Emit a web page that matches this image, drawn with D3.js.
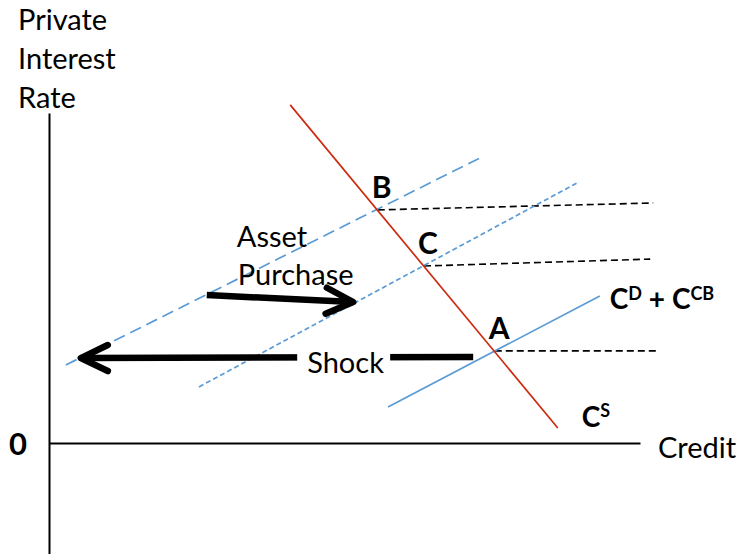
<!DOCTYPE html>
<html>
<head>
<meta charset="utf-8">
<script src="https://cdn.jsdelivr.net/npm/d3@7"></script>
<style>
  html, body { margin: 0; padding: 0; background: #fff; }
  svg { display: block; }
  text { font-family: Lato, "Open Sans", sans-serif; fill: #000; }
</style>
</head>
<body>
<svg id="chart" width="746" height="554"></svg>
<script>
// ---------- data (diagram units: credit on x, private interest rate on y) ----------
const yTitleLines = ["Private", "Interest", "Rate"];
const xTitle = "Credit";
const yTickValues = [0];

const supplyCurve = [[40.2, 112.7], [84.8, 5.0]];          // C^S (red)
const demandInitial = [[56.5, 12.0], [91.8, 49.0]];        // C^D + C^CB (solid blue)
const demandAfterShock = [[2.8, 26.0], [72.5, 95.7]];      // long-dashed blue
const demandAfterPurchase = [[25.0, 18.7], [88.3, 87.0]];  // short-dashed blue

const pointLabels = ["A", "B", "C"];
const pointX = [74.3, 54.8, 62.5];
const pointY = [30.7, 77.7, 59.0];
const guideEndX = [101.3, 100.7, 100.2];
const guideEndY = [30.7, 80.0, 61.3];

const shockArrow = [[70.7, 28.7], [5.3, 28.3]];
const purchaseArrow = [[26.3, 49.3], [50.7, 47.0]];
const shockText = "Shock";
const purchaseText = ["Asset", "Purchase"];

// ---------- scales ----------
const svg = d3.select("#chart");
const x = d3.scaleLinear().domain([0, 98.5]).range([49, 640]);
const y = d3.scaleLinear().domain([-37, 110]).range([554, 113]);
const line = d3.line().x(d => x(d[0])).y(d => y(d[1]));

const blue = "#5B9BD5";
const red = "#CC2B10";

// ---------- axes ----------
const yAxis = d3.axisLeft(y).tickValues(yTickValues).tickSize(0).tickSizeOuter(0)
  .tickPadding(22).tickFormat(d3.format("d"));
const gy = svg.append("g").attr("transform", `translate(${x(0)},0)`).call(yAxis);
gy.select(".domain").attr("stroke", "#000").attr("stroke-width", 2);
gy.selectAll(".tick text").attr("font-family", "Lato, sans-serif")
  .attr("font-size", 31).attr("font-weight", "bold").attr("fill", "#000").attr("dy", "0.36em");

const xAxis = d3.axisBottom(x).tickValues([]).tickSizeOuter(0);
const gx = svg.append("g").attr("transform", `translate(0,${y(0)})`).call(xAxis);
gx.select(".domain").attr("stroke", "#000").attr("stroke-width", 2);

// axis titles
const yt = svg.append("text").attr("x", 18).attr("font-size", 29);
yTitleLines.forEach((t, i) => {
  yt.append("tspan").attr("x", 18).attr("y", 30 + i * 39).text(t);
});
svg.append("text").attr("x", x(98.5) + 18).attr("y", y(0) + 15)
  .attr("font-size", 29).text(xTitle);

// ---------- guide lines (black dashed) ----------
svg.append("g").selectAll("path").data(pointLabels).join("path")
  .attr("d", (d, i) => line([[pointX[i], pointY[i]], [guideEndX[i], guideEndY[i]]]))
  .attr("fill", "none").attr("stroke", "#000").attr("stroke-width", 1.6)
  .attr("stroke-dasharray", "7,4");

// ---------- curves ----------
svg.append("path").attr("d", line(demandAfterShock)).attr("fill", "none")
  .attr("stroke", blue).attr("stroke-width", 1.7).attr("stroke-dasharray", "12,6");
svg.append("path").attr("d", line(demandAfterPurchase)).attr("fill", "none")
  .attr("stroke", blue).attr("stroke-width", 1.7).attr("stroke-dasharray", "5,3");
svg.append("path").attr("d", line(demandInitial)).attr("fill", "none")
  .attr("stroke", blue).attr("stroke-width", 1.7);
svg.append("path").attr("d", line(supplyCurve)).attr("fill", "none")
  .attr("stroke", red).attr("stroke-width", 1.7);

// ---------- arrows ----------
function drawArrow(pts) {
  const [s, e] = pts.map(p => [x(p[0]), y(p[1])]);
  const ang = Math.atan2(e[1] - s[1], e[0] - s[0]);
  const back = 27, side = 13;
  const bx = e[0] - back * Math.cos(ang), by = e[1] - back * Math.sin(ang);
  const nx = -Math.sin(ang), ny = Math.cos(ang);
  const g = svg.append("g");
  g.append("path").attr("d", `M${s[0]},${s[1]}L${e[0]},${e[1]}`)
    .attr("stroke", "#000").attr("stroke-width", 6.5).attr("fill", "none");
  g.append("path")
    .attr("d", `M${bx + nx * side},${by + ny * side}L${e[0]},${e[1]}L${bx - nx * side},${by - ny * side}`)
    .attr("stroke", "#000").attr("stroke-width", 6.5).attr("fill", "none")
    .attr("stroke-linecap", "round").attr("stroke-linejoin", "round");
  return g;
}
drawArrow(purchaseArrow);
drawArrow(shockArrow);

// shock label with white box breaking the arrow shaft
const shockStart = [x(shockArrow[0][0]), y(shockArrow[0][1])];
const shockG = svg.append("g");
const bg = shockG.append("rect").attr("fill", "#fff");
const st = shockG.append("text").attr("x", shockStart[0] - 166).attr("y", shockStart[1] + 16)
  .attr("font-size", 29).text(shockText);
const bb = st.node().getBBox();
bg.attr("x", bb.x - 10).attr("y", bb.y).attr("width", bb.width + 16).attr("height", bb.height);

// asset purchase label
const pStart = [x(purchaseArrow[0][0]), y(purchaseArrow[0][1])];
purchaseText.forEach((t, i) => {
  svg.append("text").attr("x", pStart[0] + 30 + i).attr("y", pStart[1] - 48 + i * 38)
    .attr("font-size", 29).text(t);
});

// ---------- point labels ----------
svg.append("g").selectAll("text").data(pointLabels).join("text")
  .attr("x", (d, i) => x(pointX[i]) - 6).attr("y", (d, i) => y(pointY[i]) - 12)
  .attr("font-size", 30).attr("font-weight", "bold").text(d => d);

// ---------- curve labels ----------
const csEnd = [x(supplyCurve[1][0]), y(supplyCurve[1][1])];
const cs = svg.append("text").attr("x", csEnd[0] + 24).attr("y", csEnd[1] - 1)
  .attr("font-size", 28).attr("font-weight", "bold");
cs.append("tspan").text("C");
cs.append("tspan").attr("dy", -10).attr("font-size", 18).text("S");

const cdEnd = [x(demandInitial[1][0]), y(demandInitial[1][1])];
const cd = svg.append("text").attr("x", cdEnd[0] + 10).attr("y", cdEnd[1] + 13)
  .attr("font-size", 28).attr("font-weight", "bold");
cd.append("tspan").text("C");
cd.append("tspan").attr("dy", -9).attr("font-size", 18).text("D");
cd.append("tspan").attr("dy", 9).text(" + C");
cd.append("tspan").attr("dy", -9).attr("font-size", 18).text("CB");
</script>
</body>
</html>
